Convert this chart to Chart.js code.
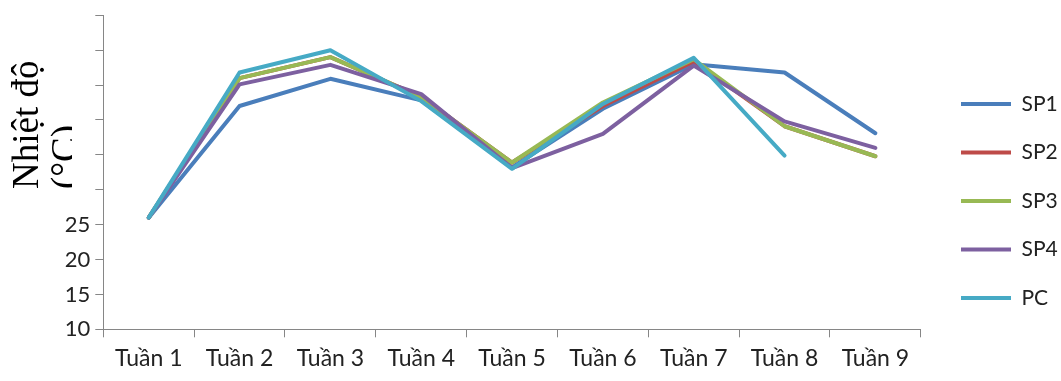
<!DOCTYPE html>
<html>
<head>
<meta charset="utf-8">
<script src="https://cdn.jsdelivr.net/npm/chart.js@4/dist/chart.umd.min.js"></script>
<style>
  html, body { margin: 0; padding: 0; background: #fff; }
  #wrap { width: 1061px; height: 381px; }
</style>
</head>
<body>
<div id="wrap"><canvas id="c" width="1061" height="381"></canvas></div>
<script>
const categories = ['Tuần 1', 'Tuần 2', 'Tuần 3', 'Tuần 4', 'Tuần 5', 'Tuần 6', 'Tuần 7', 'Tuần 8', 'Tuần 9'];
const sp1 = [26.0, 42.0, 45.9, 42.8, 33.2, 41.6, 48.0, 46.8, 38.1];
const sp2 = [26.0, 46.0, 49.0, 43.3, 33.9, 42.0, 48.4, 39.1, 34.8];
const sp3 = [26.0, 46.0, 49.0, 43.3, 33.9, 42.5, 48.7, 39.1, 34.8];
const sp4 = [26.0, 45.1, 47.9, 43.7, 33.1, 38.0, 47.8, 39.8, 36.0];
const pc  = [26.0, 46.8, 50.0, 42.7, 33.0, 42.3, 48.9, 34.9, null];
const seriesNames = ['SP1', 'SP2', 'SP3', 'SP4', 'PC'];
const seriesColors = ['#4A7EBB', '#BE4B48', '#98B954', '#7D60A0', '#46AAC5'];
const yTickLabels = ['10', '15', '20', '25'];
const yTitleLines = ['Nhiệt độ', '(°C)'];

const seriesData = [sp1, sp2, sp3, sp4, pc];
const datasets = seriesData.map((d, i) => ({
  label: seriesNames[i],
  data: d,
  borderColor: seriesColors[i],
  backgroundColor: seriesColors[i],
  borderWidth: 4,
  pointRadius: 0,
  pointHoverRadius: 0,
  tension: 0,
  fill: false,
  borderJoinStyle: 'round',
  borderCapStyle: 'round',
  spanGaps: false,
  order: seriesData.length - i
}));

const legendPadding = 27.5;

const titlePlugin = {
  id: 'yTitle',
  afterLayout(chart) {
    const lg = chart.legend;
    if (lg) {
      const w = lg.right - lg.left;
      lg.left = 961 - legendPadding; lg.right = lg.left + w;
      lg.top = 66; lg.bottom = 381;
    }
  },
  afterDraw(chart) {
    const ctx = chart.ctx;
    ctx.save();
    ctx.beginPath();
    ctx.rect(0, 0, 72, 381);
    ctx.clip();
    ctx.font = '37px "Liberation Serif", "Times New Roman", serif';
    ctx.fillStyle = '#000';
    ctx.textAlign = 'left';
    ctx.textBaseline = 'alphabetic';
    ctx.translate(0, 189);
    ctx.rotate(-Math.PI / 2);
    ctx.fillText(yTitleLines[0], 0, 38);
    ctx.fillText(yTitleLines[1], 0, 77);
    ctx.restore();
  }
};

const axisColor = '#868686';
const fontFamily = 'Lato, "Open Sans", sans-serif';

new Chart(document.getElementById('c'), {
  type: 'line',
  data: { labels: categories, datasets },
  plugins: [titlePlugin],
  options: {
    responsive: false,
    animation: false,
    events: [],
    layout: { padding: { top: 15.3, left: 0, right: 6, bottom: 0 } },
    plugins: {
      tooltip: { enabled: false },
      title: { display: false },
      legend: {
        display: true,
        position: 'right',
        align: 'start',
        labels: {
          usePointStyle: true,
          pointStyle: 'line',
          pointStyleWidth: 50,
          boxWidth: 50,
          padding: legendPadding,
          color: '#222',
          sort: (a, b) => a.datasetIndex - b.datasetIndex,
          font: { family: fontFamily, size: 21, lineHeight: 1 }
        }
      }
    },
    scales: {
      x: {
        type: 'category',
        offset: true,
        border: { display: true, color: axisColor, width: 1 },
        grid: { display: true, drawOnChartArea: false, drawTicks: true, tickLength: 8, color: axisColor, offset: true },
        ticks: { color: '#222', font: { family: fontFamily, size: 23 }, padding: 7, maxRotation: 0, autoSkip: false },
        afterFit(scale) { scale.height = 381 - 329.3; scale.paddingLeft = 0; scale.paddingRight = 0; }
      },
      y: {
        min: 10,
        max: 55,
        border: { display: true, color: axisColor, width: 1 },
        grid: { display: true, drawOnChartArea: false, drawTicks: true, tickLength: 8, color: axisColor },
        ticks: {
          stepSize: 5,
          color: '#222',
          font: { family: fontFamily, size: 22 },
          padding: 5,
          callback: (v) => yTickLabels.includes(String(v)) ? String(v) : ''
        },
        afterFit(scale) { scale.width = 103.3; scale.paddingTop = 0; scale.paddingBottom = 0; }
      }
    }
  }
});
</script>
</body>
</html>
